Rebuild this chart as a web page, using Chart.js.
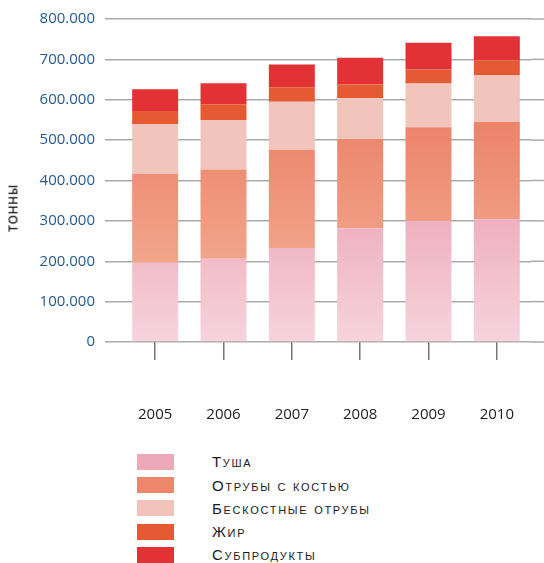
<!DOCTYPE html>
<html><head><meta charset="utf-8">
<script src="https://cdn.jsdelivr.net/npm/chart.js@4"></script>
<style>
html,body{margin:0;padding:0;background:#fff;}
#wrap{position:relative;width:544px;height:563px;overflow:hidden;}
#c{position:absolute;left:0;top:0;}
#ytitle{position:absolute;left:13px;top:208px;transform:translate(-50%,-50%) rotate(-90deg);font:600 12px "Open Sans";color:#222;letter-spacing:0.6px;white-space:nowrap;}
#legend{position:absolute;left:137px;top:450.4px;}
.row{display:flex;align-items:center;height:23.2px;}
.sw{width:37px;height:16px;margin-right:38px;flex:none;}
.lb{font-family:"Liberation Sans";font-size:15px;font-variant:small-caps;letter-spacing:1.7px;color:#1a1a1a;white-space:nowrap;}
</style></head>
<body>
<div id="wrap">
<canvas id="c" width="544" height="430"></canvas>
<div id="ytitle">ТОННЫ</div>
<div id="legend"></div>
</div>
<script>
const years = ['2005','2006','2007','2008','2009','2010'];
const seriesNames = ['Туша','Отрубы с костью','Бескостные отрубы','Жир','Субпродукты'];
const tusha      = [196000, 206000, 233000, 282000, 299000, 304000];
const otrubyKost = [221000, 221000, 243000, 221000, 233000, 241000];
const beskost    = [123000, 123000, 119000, 101000, 108000, 116000];
const zhir       = [32000, 39000, 36000, 34000, 35000, 37000];
const subprod    = [54000, 52000, 56000, 66000, 66000, 59000];
const yTicksMax = 800000;
const yTickStep = 100000;

const legendColors = ['#eea9b9','#ee866c','#f2c3bb','#e65a33','#e23236'];

function grad(top, bottom, cTop, cBottom, fallback){
  return (ctx)=>{
    const ch = ctx.chart;
    if(!ch.chartArea) return fallback;
    const y = ch.scales.y;
    const g = ch.ctx.createLinearGradient(0, y.getPixelForValue(top), 0, y.getPixelForValue(bottom));
    g.addColorStop(0, cTop);
    g.addColorStop(1, cBottom);
    return g;
  };
}

const fmt = v => v===0 ? '0' : String(v).replace(/\B(?=(\d{3})+(?!\d))/g,'.');

const extendGrid = {
  id:'extendGrid',
  beforeDatasetsDraw(chart){
    const {ctx, chartArea, scales:{y}} = chart;
    ctx.save();
    ctx.strokeStyle = '#aaaaaa';
    ctx.lineWidth = 1.5;
    y.ticks.forEach(t=>{
      const py = y.getPixelForValue(t.value);
      ctx.beginPath();
      ctx.moveTo(chartArea.right, py);
      ctx.lineTo(chart.width, py);
      ctx.stroke();
    });
    ctx.restore();
  }
};

const dataArrays = [tusha, otrubyKost, beskost, zhir, subprod];
const bgs = [
  grad(310000, 0, '#efafc0', '#f6d4dd', legendColors[0]),
  grad(550000, 190000, '#ec836a', '#f1a68c', legendColors[1]),
  '#f1c4bc',
  '#e65a33',
  '#e23236'
];

new Chart(document.getElementById('c'), {
  type:'bar',
  data:{
    labels: years,
    datasets: seriesNames.map((n,i)=>({
      label:n, data:dataArrays[i], backgroundColor:bgs[i],
      borderWidth:0, barPercentage:0.673, categoryPercentage:1
    }))
  },
  plugins:[extendGrid],
  options:{
    responsive:false, animation:false,
    layout:{padding:{top:17,right:13,bottom:8,left:0}},
    plugins:{legend:{display:false}, tooltip:{enabled:false}},
    scales:{
      x:{
        stacked:true,
        grid:{display:true, drawOnChartArea:false, drawTicks:true, tickLength:18, color:'#777', lineWidth:1.5, offset:false},
        border:{display:false},
        ticks:{padding:46, color:'#222', font:{family:'Open Sans', size:15}},
        afterFit(s){ s.height = 80; s.paddingLeft = 0; s.paddingRight = 0; }
      },
      y:{
        stacked:true, min:0, max:yTicksMax,
        ticks:{stepSize:yTickStep, padding:10, color:'#1f5a99', font:{family:'Open Sans', size:15}, callback:fmt},
        grid:{color:'#aaaaaa', lineWidth:1.5, tickLength:16, drawTicks:true},
        border:{display:false},
        afterFit(s){ s.width = 121; }
      }
    }
  }
});

const lg = document.getElementById('legend');
seriesNames.forEach((n,i)=>{
  const r = document.createElement('div'); r.className='row';
  const s = document.createElement('div'); s.className='sw'; s.style.background=legendColors[i];
  const l = document.createElement('div'); l.className='lb'; l.textContent=n;
  r.appendChild(s); r.appendChild(l); lg.appendChild(r);
});
</script>
</body></html>
